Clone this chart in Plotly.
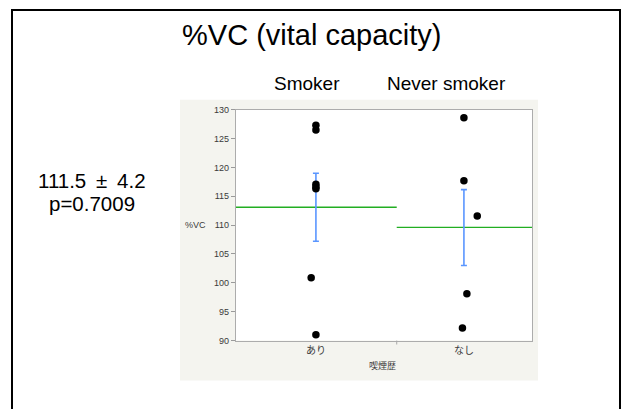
import plotly.graph_objects as go

# ---- data ----
groups = ["あり", "なし"]
group_titles = ["Smoker", "Never smoker"]
smoker_vc = [127.3, 126.5, 117.1, 116.6, 116.3, 100.9, 91.0]
smoker_jitter = [0.0, 0.0, 0.0, 0.0, 0.0, -0.032, 0.0]
never_vc = [128.6, 117.7, 111.6, 98.1, 92.2]
never_jitter = [0.0, 0.0, 0.09, 0.02, -0.01]
group_means = [113.1, 109.6]
ci_upper = [119.0, 116.15]
ci_lower = [107.2, 103.0]
y_ticks = [90, 95, 100, 105, 110, 115, 120, 125, 130]
summary_text = ["111.5\u00a0\u2009±\u2009\u00a04.2", "p=0.7009"]
title_text = "%VC (vital capacity)"

W, H = 623, 409
X_RANGE = [-0.54, 1.46]
DIVIDER = 0.546


def px(x):
    return x / W


def py(y):
    return 1 - y / H


fig = go.Figure()

# group means (green lines spanning each category's section)
mean_spans = [(X_RANGE[0], DIVIDER), (DIVIDER, X_RANGE[1])]
for (x0, x1), m in zip(mean_spans, group_means):
    fig.add_trace(go.Scatter(
        x=[x0, x1], y=[m, m], mode="lines",
        line=dict(color="#22AE22", width=1.3), showlegend=False, hoverinfo="skip"))

# error bars (blue)
fig.add_trace(go.Scatter(
    x=[0, 1], y=group_means, mode="markers",
    marker=dict(size=1, color="#5A96FF"),
    error_y=dict(type="data", symmetric=False,
                 array=[u - m for u, m in zip(ci_upper, group_means)],
                 arrayminus=[m - l for l, m in zip(ci_lower, group_means)],
                 color="#5A96FF", thickness=1.6, width=3),
    showlegend=False, hoverinfo="skip"))

# points
fig.add_trace(go.Scatter(
    x=[0 + j for j in smoker_jitter], y=smoker_vc, mode="markers",
    marker=dict(size=7.5, color="black"), showlegend=False))
fig.add_trace(go.Scatter(
    x=[1 + j for j in never_jitter], y=never_vc, mode="markers",
    marker=dict(size=7.5, color="black"), showlegend=False))

font_main = "Liberation Sans, Arial, sans-serif"
font_axis = "Liberation Sans, Noto Sans CJK JP, Arial, sans-serif"
axis_txt = "#3A3A3A"

shapes = [
    # outer frame
    dict(type="rect", xref="paper", yref="paper",
         x0=px(12), x1=px(620), y0=py(440), y1=py(5),
         line=dict(color="black", width=2), layer="below"),
    # gray panel
    dict(type="rect", xref="paper", yref="paper",
         x0=px(180), x1=px(538), y0=py(385), y1=py(97),
         fillcolor="#F4F4EF", line=dict(width=0), layer="below"),
    # white plot area over the panel
    dict(type="rect", xref="paper", yref="paper",
         x0=px(236), x1=px(532), y0=py(344), y1=py(107.3),
         fillcolor="white", line=dict(width=0), layer="below"),
    # divider tick
    dict(type="line", xref="x", yref="paper",
         x0=DIVIDER, x1=DIVIDER, y0=py(344), y1=py(348),
         line=dict(color="#A8A8A8", width=1)),
]


def ann(text, x, y, size, family=font_main, color="black"):
    return dict(text=text, x=px(x), y=py(y), xref="paper", yref="paper",
                xanchor="center", yanchor="middle", showarrow=False,
                font=dict(size=size, color=color, family=family))


annotations = [
    ann(title_text, 311, 31, 29),
    ann(group_titles[0], 307, 80, 19),
    ann(group_titles[1], 446, 80, 19),
    ann(summary_text[0], 92, 180, 20.5),
    ann(summary_text[1], 92, 203.5, 20.5),
    ann("%VC", 195, 226, 9, font_axis, axis_txt),
    ann("喫煙歴", 382, 370, 9, font_axis, axis_txt),
]

fig.update_layout(
    width=W, height=H,
    margin=dict(l=0, r=0, t=0, b=0),
    paper_bgcolor="white", plot_bgcolor="white",
    shapes=shapes, annotations=annotations,
    xaxis=dict(domain=[px(236), px(532)], range=X_RANGE,
               tickvals=[0, 1], ticktext=groups, ticks="",
               showgrid=False, zeroline=False, showline=True, mirror=True,
               linecolor="#ACACAC", linewidth=1.3,
               tickfont=dict(size=10, color=axis_txt, family=font_axis)),
    yaxis=dict(domain=[py(344), py(107.3)], range=[90, 130],
               tickvals=y_ticks, ticks="outside", ticklen=4, tickcolor="#9A9A9A",
               showgrid=False, zeroline=False, showline=True, mirror=True,
               linecolor="#ACACAC", linewidth=1.3,
               tickfont=dict(size=9, color=axis_txt, family=font_axis)),
)

fig.write_html("out.html")
